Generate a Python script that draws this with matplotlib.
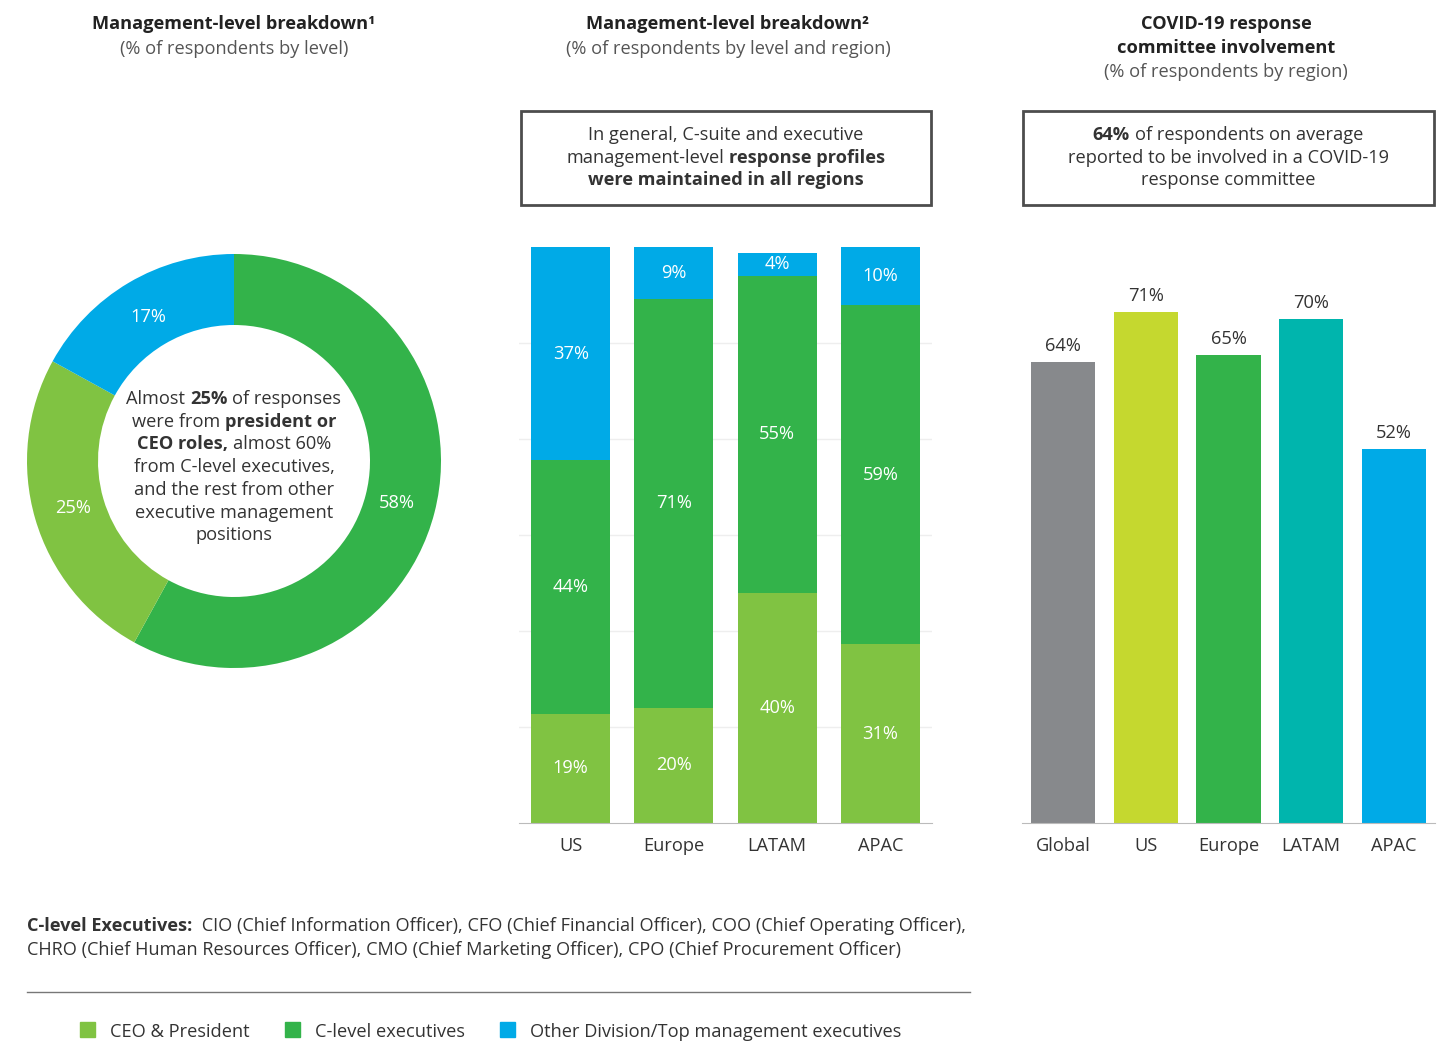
import numpy as np
import matplotlib.pyplot as plt
from matplotlib.patches import Rectangle
from matplotlib.lines import Line2D

# data
donut_labels = ['C-level executives', 'CEO & President', 'Other Division/Top management executives']
donut_values = [58, 25, 17]

regions = ['US', 'Europe', 'LATAM', 'APAC']
ceo = [19, 20, 40, 31]
clevel = [44, 71, 55, 59]
other = [37, 9, 4, 10]

committee_regions = ['Global', 'US', 'Europe', 'LATAM', 'APAC']
committee = [64, 71, 65, 70, 52]

legend_labels = ['CEO & President', 'C-level executives', 'Other Division/Top management executives']

# colours
LIGHT = '#80C342'
GREEN = '#33B34A'
BLUE = '#00AAE7'
committee_colors = ['#87898C', '#C5D82F', GREEN, '#00B5AD', BLUE]
DARK = '#222222'
TXT = '#333333'
FS = 13.15

W, H = 1445, 1044
plt.rcParams['font.family'] = ['Open Sans', 'DejaVu Sans']

fig = plt.figure(figsize=(W / 100, H / 100), dpi=100)
renderer = fig.canvas.get_renderer()


def fx(px):
    return px / W


def fy(py):
    return 1 - py / H


def ty(py):
    # text rows, nudged 2px down
    return 1 - (py + 2) / H


def text_width(s, size, weight):
    t = fig.text(0, 0, s, fontsize=size, fontweight=weight)
    w = t.get_window_extent(renderer).width
    t.remove()
    return w


def rich(x, y, lines, size=FS, color=TXT, ha='center', step=23):
    # lines = list of [(text, bold), ...]; pieces joined by a space
    space = text_width('n n', size, 'normal') - text_width('nn', size, 'normal')
    for i, segs in enumerate(lines):
        widths = [text_width(s, size, 'bold' if b else 'normal') for s, b in segs]
        total = sum(widths) + space * (len(segs) - 1)
        start = x - total / 2 if ha == 'center' else x
        for (s, b), w in zip(segs, widths):
            fig.text(fx(start), ty(y + i * step), s, fontsize=size,
                     fontweight='bold' if b else 'normal', color=color,
                     ha='left', va='center')
            start += w + space


# ---- titles
fig.text(fx(234), ty(22), 'Management-level breakdown¹', ha='center', va='center',
         fontsize=FS, fontweight='bold', color=DARK)
fig.text(fx(234), ty(47), '(% of respondents by level)', ha='center', va='center',
         fontsize=FS, color='#555555')
fig.text(fx(728), ty(22), 'Management-level breakdown²', ha='center', va='center',
         fontsize=FS, fontweight='bold', color=DARK)
fig.text(fx(728), ty(47), '(% of respondents by level and region)', ha='center', va='center',
         fontsize=FS, color='#555555')
fig.text(fx(1226), ty(22), 'COVID-19 response', ha='center', va='center',
         fontsize=FS, fontweight='bold', color=DARK)
fig.text(fx(1226), ty(46), 'committee involvement', ha='center', va='center',
         fontsize=FS, fontweight='bold', color=DARK)
fig.text(fx(1226), ty(70), '(% of respondents by region)', ha='center', va='center',
         fontsize=FS, color='#555555')

# ---- donut
ax1 = fig.add_axes([fx(27), fy(668), 414 / W, 414 / H])
wedges, _ = ax1.pie(donut_values, colors=[GREEN, LIGHT, BLUE], startangle=90,
                    counterclock=False, radius=1,
                    wedgeprops=dict(width=0.343, edgecolor='none'))
ax1.set_xlim(-1, 1)
ax1.set_ylim(-1, 1)
ax1.axis('off')
for w, v in zip(wedges, donut_values):
    ang = np.deg2rad((w.theta1 + w.theta2) / 2)
    ax1.text(0.81 * np.cos(ang), 0.81 * np.sin(ang), f'{v}%', ha='center', va='center',
             color='white', fontsize=FS)

rich(234, 397, [[('Almost', False), ('25%', True), ('of responses', False)],
                [('were from', False), ('president or', True)],
                [('CEO roles,', True), ('almost 60%', False)],
                [('from C-level executives,', False)],
                [('and the rest from other', False)],
                [('executive management', False)],
                [('positions', False)]], step=22.7)

# ---- stacked bars
ax2 = fig.add_axes([fx(519), fy(823), 413 / W, 576 / H])
x = np.arange(len(regions))
bw = 0.765
b1 = ax2.bar(x, ceo, bw, color=LIGHT, zorder=2)
b2 = ax2.bar(x, clevel, bw, bottom=ceo, color=GREEN, zorder=2)
b3 = ax2.bar(x, other, bw, bottom=np.array(ceo) + np.array(clevel), color=BLUE, zorder=2)
for bars in (b1, b2, b3):
    ax2.bar_label(bars, labels=[f'{int(b.get_height())}%' for b in bars],
                  label_type='center', color='white', fontsize=FS)
ax2.set_xlim(-0.5, 3.5)
ax2.set_ylim(0, 100)
ax2.set_yticks(np.linspace(0, 100, 7)[1:-1])
ax2.yaxis.grid(True, color='#EEEEEE', lw=1, zorder=0)
ax2.set_axisbelow(True)
ax2.tick_params(axis='y', left=False, labelleft=False)
ax2.set_xticks(x)
ax2.set_xticklabels(regions, fontsize=FS, color=TXT)
ax2.tick_params(axis='x', length=0, pad=10)
for s in ('top', 'right', 'left'):
    ax2.spines[s].set_visible(False)
ax2.spines['bottom'].set_color('#BBBBBB')
ax2.patch.set_alpha(0)

# ---- committee bars
ax3 = fig.add_axes([fx(1022), fy(823), 413 / W, 576 / H])
x3 = np.arange(len(committee_regions))
b = ax3.bar(x3, committee, 0.775, color=committee_colors)
ax3.bar_label(b, labels=[f'{v}%' for v in committee], padding=5, color=TXT, fontsize=FS)
ax3.set_xlim(-0.5, 4.5)
ax3.set_ylim(0, 80)
ax3.set_yticks([])
ax3.set_xticks(x3)
ax3.set_xticklabels(committee_regions, fontsize=FS, color=TXT)
ax3.tick_params(axis='x', length=0, pad=10)
for s in ('top', 'right', 'left'):
    ax3.spines[s].set_visible(False)
ax3.spines['bottom'].set_color('#BBBBBB')
ax3.patch.set_alpha(0)

# ---- callout boxes
for x0, x1 in ((521, 931), (1023, 1434)):
    fig.patches.append(Rectangle((fx(x0), fy(205)), (x1 - x0) / W, 94 / H,
                                 transform=fig.transFigure, fill=False,
                                 edgecolor='#4D4D4D', lw=2))
rich(726, 133, [[('In general, C-suite and executive', False)],
                [('management-level', False), ('response profiles', True)],
                [('were maintained in all regions', True)]], step=22.7)
rich(1228, 133, [[('64%', True), ('of respondents on average', False)],
                 [('reported to be involved in a COVID-19', False)],
                 [('response committee', False)]], step=22.7)

# ---- footnote
rich(27, 924, [[('C-level Executives:', True),
                (' CIO (Chief Information Officer), CFO (Chief Financial Officer), COO (Chief Operating Officer),', False)],
               [('CHRO (Chief Human Resources Officer), CMO (Chief Marketing Officer), CPO (Chief Procurement Officer)', False)]],
     size=13.05, ha='left', step=24)
fig.add_artist(Line2D([fx(27), fx(970)], [fy(992), fy(992)], color='#777777', lw=1))

# ---- legend
lx = 80
for lab, col in zip(legend_labels, [LIGHT, GREEN, BLUE]):
    fig.patches.append(Rectangle((fx(lx), fy(1037)), 15 / W, 15 / H,
                                 transform=fig.transFigure, color=col))
    fig.text(fx(lx + 30), ty(1030), lab, fontsize=FS, color=TXT, va='center', ha='left')
    lx += 30 + text_width(lab, FS, 'normal') + 35

fig.savefig('out.png', dpi=100)
